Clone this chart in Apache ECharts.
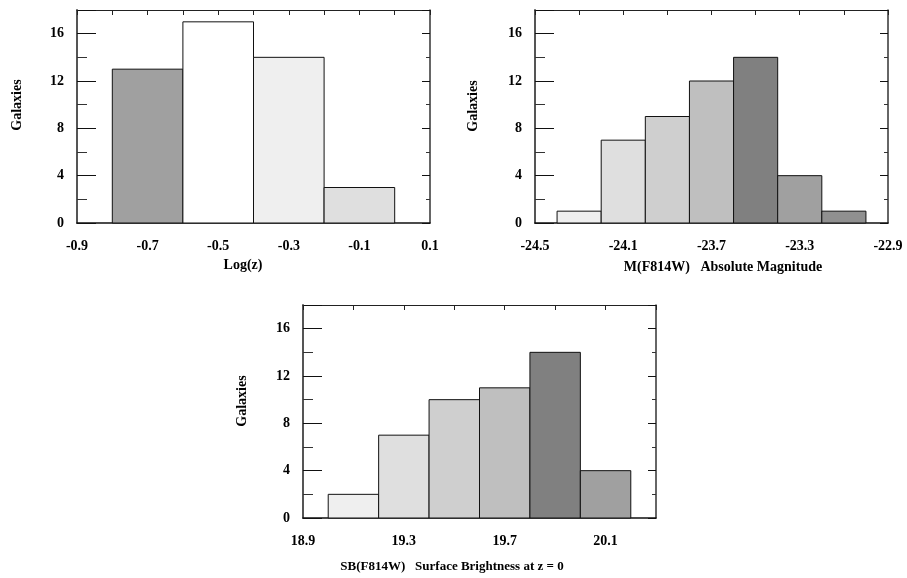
<!DOCTYPE html>
<html>
<head>
<meta charset="utf-8">
<script src="https://cdn.jsdelivr.net/npm/echarts@6/dist/echarts.min.js"></script>
<style>
html,body{margin:0;padding:0;background:#fff;}
#chart{width:907px;height:578px;}
</style>
</head>
<body>
<div id="chart"></div>
<script>
// ---- data ----
const binWidth = 0.2;

const zBinStart = [-0.8, -0.6, -0.4, -0.2];
const zCounts = [13, 17, 14, 3];

const magBinStart = [-24.4, -24.2, -24.0, -23.8, -23.6, -23.4, -23.2];
const magCounts = [1, 7, 9, 12, 14, 4, 1];

const sbBinStart = [19.0, 19.2, 19.4, 19.6, 19.8, 20.0];
const sbCounts = [2, 7, 10, 11, 14, 4];

const yTickValues = [0, 4, 8, 12, 16];

const zXLabels = ['-0.9', '-0.7', '-0.5', '-0.3', '-0.1', '0.1'];
const magXLabels = ['-24.5', '-24.1', '-23.7', '-23.3', '-22.9'];
const sbXLabels = ['18.9', '19.3', '19.7', '20.1'];

const yName = 'Galaxies';
const zName = 'Log(z)';
const magName = 'M(F814W)   Absolute Magnitude';
const sbName = 'SB(F814W)   Surface Brightness at z = 0';

// ---- styles ----
const zColors = ['#a0a0a0', '#ffffff', '#efefef', '#dfdfdf'];
const magColors = ['#efefef', '#dfdfdf', '#cfcfcf', '#bfbfbf', '#808080', '#a0a0a0', '#909090'];
const sbColors = ['#efefef', '#dfdfdf', '#cfcfcf', '#bfbfbf', '#808080', '#a0a0a0'];

const FONT = '"Liberation Serif", "Times New Roman", serif';

function toRows(starts, counts) {
  return starts.map((s, i) => [s, +(s + binWidth).toFixed(2), counts[i]]);
}

const panels = [
  {grid: {left: 77, top: 10, width: 353, height: 213}, min: -0.9, max: 0.1, interval: 0.2, topInterval: 0.1,
   rows: toRows(zBinStart, zCounts), colors: zColors, showMax: true},
  {grid: {left: 535, top: 10, width: 353, height: 213}, min: -24.5, max: -22.9, interval: 0.4, topInterval: 0.2,
   rows: toRows(magBinStart, magCounts), colors: magColors, showMax: true},
  {grid: {left: 303, top: 305, width: 353, height: 213}, min: 18.9, max: 20.3, interval: 0.4, topInterval: 0.2,
   rows: toRows(sbBinStart, sbCounts), colors: sbColors, showMax: false}
];

const grids = [], xAxes = [], yAxes = [], series = [];
const labelStyle = {fontFamily: FONT, fontWeight: 'bold', fontSize: 14, color: '#000'};

panels.forEach((p, i) => {
  grids.push(Object.assign({containLabel: false}, p.grid));
  // bottom axis (labels)
  xAxes.push({
    type: 'value', gridIndex: i, position: 'bottom', min: p.min, max: p.max, interval: p.interval,
    axisLine: {show: true, onZero: false, lineStyle: {color: '#111', width: 1.5}},
    axisTick: {show: false}, splitLine: {show: false},
    axisLabel: Object.assign({margin: 16, showMinLabel: true, showMaxLabel: p.showMax,
      formatter: v => (Math.round(v * 10) / 10).toFixed(1)}, labelStyle)
  });
  // top axis (ticks only)
  xAxes.push({
    type: 'value', gridIndex: i, position: 'top', min: p.min, max: p.max, interval: p.topInterval,
    axisLine: {show: true, onZero: false, lineStyle: {color: '#222', width: 1}},
    axisTick: {show: true, inside: true, length: 5, lineStyle: {color: '#222', width: 1}},
    axisLabel: {show: false}, splitLine: {show: false}
  });
  // left axis
  yAxes.push({
    type: 'value', gridIndex: i, position: 'left', min: 0, max: 18, interval: 4,
    axisLine: {show: true, onZero: false, lineStyle: {color: '#555', width: 2}},
    axisTick: {show: true, inside: true, length: 19, lineStyle: {color: '#111', width: 1}},
    minorTick: {show: true, splitNumber: 2, length: 10, lineStyle: {color: '#333', width: 1}},
    axisLabel: Object.assign({margin: 13, showMaxLabel: false}, labelStyle),
    splitLine: {show: false}, minorSplitLine: {show: false}
  });
  // right axis
  yAxes.push({
    type: 'value', gridIndex: i, position: 'right', min: 0, max: 18, interval: 4,
    axisLine: {show: true, onZero: false, lineStyle: {color: '#333', width: 1.5}},
    axisTick: {show: true, inside: true, length: 8, lineStyle: {color: '#111', width: 1}},
    minorTick: {show: true, splitNumber: 2, length: 4, lineStyle: {color: '#333', width: 1}},
    axisLabel: {show: false}, splitLine: {show: false}, minorSplitLine: {show: false}
  });
  const colors = p.colors;
  series.push({
    type: 'custom', xAxisIndex: i * 2, yAxisIndex: i * 2,
    encode: {x: [0, 1], y: 2},
    data: p.rows,
    renderItem: function (params, api) {
      const p0 = api.coord([api.value(0), 0]);
      const p1 = api.coord([api.value(1), api.value(2)]);
      return {
        type: 'rect',
        shape: {x: p0[0], y: p1[1], width: p1[0] - p0[0], height: p0[1] - p1[1]},
        style: {fill: colors[params.dataIndex], stroke: '#111', lineWidth: 1}
      };
    },
    z: 1
  });
});

function nameText(text, x, y, rot, size) {
  return {
    type: 'text', x: x, y: y, rotation: rot ? Math.PI / 2 : 0,
    style: {text: text, font: 'bold ' + (size || 14) + 'px ' + FONT, fill: '#000', align: 'center', verticalAlign: 'middle'}
  };
}

const option = {
  animation: false,
  backgroundColor: '#fff',
  grid: grids,
  xAxis: xAxes,
  yAxis: yAxes,
  series: series,
  graphic: [
    nameText(yName, 17, 105, true),
    nameText(zName, 243, 265, false),
    nameText(yName, 473, 106, true),
    nameText(magName, 723, 267, false),
    nameText(yName, 242, 401, true),
    nameText(sbName, 452, 567, false, 13)
  ]
};

const chart = echarts.init(document.getElementById('chart'), null, {renderer: 'canvas'});
chart.setOption(option);
</script>
</body>
</html>
